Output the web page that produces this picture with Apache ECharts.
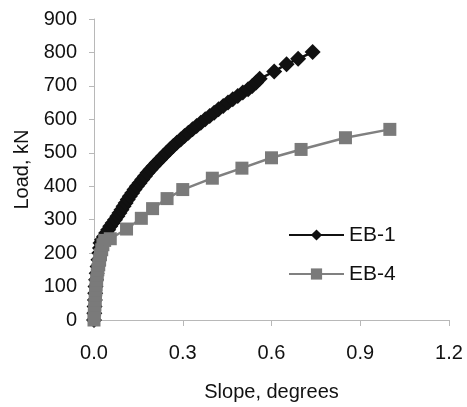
<!DOCTYPE html>
<html>
<head>
<meta charset="utf-8">
<script src="https://cdn.jsdelivr.net/npm/echarts@6/dist/echarts.min.js"></script>
<style>
html,body{margin:0;padding:0;background:#fff;}
#chart{width:467px;height:407px;}
</style>
</head>
<body>
<div id="chart"></div>
<script>
// EB-1: slope (degrees) and load (kN)
var eb1Slope = [0, 0.001, 0.002, 0.003, 0.004, 0.005, 0.007, 0.009, 0.012, 0.015, 0.018, 0.020, 0.022, 0.027, 0.034, 0.041, 0.048, 0.055, 0.063, 0.071, 0.079, 0.086, 0.093, 0.100, 0.107, 0.114, 0.121, 0.129, 0.137, 0.145, 0.154, 0.163, 0.172, 0.181, 0.191, 0.201, 0.212, 0.223, 0.234, 0.245, 0.256, 0.268, 0.280, 0.293, 0.306, 0.319, 0.333, 0.347, 0.361, 0.376, 0.391, 0.406, 0.421, 0.437, 0.453, 0.469, 0.486, 0.503, 0.521, 0.535, 0.548, 0.560, 0.609, 0.651, 0.690, 0.739];
var eb1Load  = [0, 20, 40, 60, 80, 100, 120, 140, 160, 180, 200, 215, 230, 240, 250, 260, 270, 280, 290, 300, 310, 320, 330, 340, 350, 360, 370, 380, 390, 400, 410, 420, 430, 440, 450, 460, 470, 480, 490, 500, 510, 520, 530, 540, 550, 560, 570, 580, 590, 600, 610, 620, 630, 640, 650, 660, 670, 680, 690, 700, 710, 721, 743, 765, 781, 801];
// EB-4: slope (degrees) and load (kN)
var eb4Slope = [0, 0.001, 0.002, 0.003, 0.004, 0.005, 0.006, 0.007, 0.009, 0.011, 0.013, 0.016, 0.019, 0.022, 0.026, 0.030, 0.036, 0.055, 0.110, 0.160, 0.198, 0.247, 0.300, 0.400, 0.500, 0.600, 0.700, 0.850, 1.000];
var eb4Load  = [0, 15, 30, 45, 60, 75, 90, 105, 120, 135, 150, 165, 180, 195, 210, 225, 238, 243, 272, 304, 333, 363, 390, 424, 454, 485, 510, 545, 570];
var seriesNames = ['EB-1', 'EB-4'];
var xTitle = 'Slope, degrees';
var yTitle = 'Load, kN';

function pairs(xs, ys){ return xs.map(function(x,i){ return [x, ys[i]]; }); }

var font = 'Liberation Sans, Arial, sans-serif';
var axisGrey = '#b8b8b8';
var chart = echarts.init(document.getElementById('chart'), null, {renderer:'canvas'});
chart.setOption({
  animation: false,
  backgroundColor: '#fff',
  grid: {left: 94, right: 18, top: 19, bottom: 82, containLabel: false},
  legend: {
    orient: 'vertical', left: 283, top: 219,
    itemWidth: 55, itemHeight: 14, itemGap: 17, itemTextGap: 7,
    textStyle: {fontFamily: font, fontSize: 21, color: '#111', lineHeight: 22},
    data: seriesNames
  },
  xAxis: {
    type: 'value', min: 0, max: 1.2, interval: 0.3,
    name: xTitle, nameLocation: 'middle', nameGap: 62,
    nameTextStyle: {fontFamily: font, fontSize: 20, color: '#111'},
    axisLine: {show: true, lineStyle: {color: axisGrey, width: 1}},
    axisTick: {show: true, inside: false, length: 6, lineStyle: {color: axisGrey}},
    axisLabel: {margin: 23, fontFamily: font, fontSize: 20, color: '#111',
      formatter: function(v){ return v.toFixed(1); }},
    splitLine: {show: false}
  },
  yAxis: {
    type: 'value', min: 0, max: 900, interval: 100,
    name: yTitle, nameLocation: 'middle', nameGap: 62, nameRotate: 90,
    nameTextStyle: {fontFamily: font, fontSize: 20, color: '#111'},
    axisLine: {show: true, lineStyle: {color: axisGrey, width: 1}},
    axisTick: {show: true, inside: false, length: 5, lineStyle: {color: axisGrey}},
    axisLabel: {margin: 17, fontFamily: font, fontSize: 20, color: '#111'},
    splitLine: {show: false}
  },
  series: [
    {
      name: seriesNames[0], type: 'line', data: pairs(eb1Slope, eb1Load),
      symbol: 'diamond', symbolSize: 16, showAllSymbol: true,
      lineStyle: {color: '#111', width: 2.5},
      itemStyle: {color: '#111', borderColor: '#111', borderWidth: 0},
      z: 2
    },
    {
      name: seriesNames[1], type: 'line', data: pairs(eb4Slope, eb4Load),
      symbol: 'rect', symbolSize: 13, showAllSymbol: true,
      lineStyle: {color: '#808080', width: 2.5},
      itemStyle: {color: '#7a7a7a', borderColor: '#7a7a7a', borderWidth: 0},
      z: 3
    }
  ]
});
</script>
</body>
</html>
